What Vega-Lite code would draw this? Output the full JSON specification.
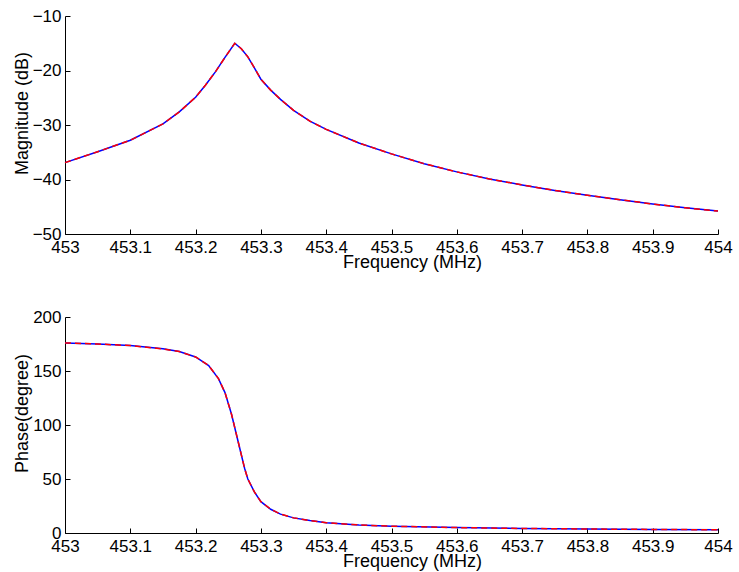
{
  "$schema": "https://vega.github.io/schema/vega-lite/v6.json",
  "background": "white",
  "padding": {"left": 13, "top": 7, "right": 15, "bottom": 5},
  "spacing": 37,
  "config": {
    "view": {"stroke": null},
    "font": "Liberation Sans",
    "axis": {
      "grid": false,
      "domainColor": "#000000",
      "tickColor": "#000000",
      "labelColor": "#000000",
      "titleColor": "#000000",
      "labelFont": "Liberation Sans",
      "titleFont": "Liberation Sans",
      "labelFontSize": 17,
      "titleFontSize": 18,
      "titleFontWeight": "normal",
      "tickSize": -5,
      "domainWidth": 1,
      "tickWidth": 1
    }
  },
  "datasets": {
    "mag": [
      {"f": 453.0, "v": -36.9}, {"f": 453.05, "v": -34.9}, {"f": 453.1, "v": -32.8}, {"f": 453.15, "v": -29.8},
      {"f": 453.175, "v": -27.6}, {"f": 453.2, "v": -24.9}, {"f": 453.215, "v": -22.7}, {"f": 453.23, "v": -20.3},
      {"f": 453.245, "v": -17.6}, {"f": 453.26, "v": -15.0}, {"f": 453.27, "v": -16.0}, {"f": 453.28, "v": -17.5},
      {"f": 453.29, "v": -19.5}, {"f": 453.3, "v": -21.6}, {"f": 453.315, "v": -23.6}, {"f": 453.33, "v": -25.3},
      {"f": 453.35, "v": -27.3}, {"f": 453.375, "v": -29.3}, {"f": 453.4, "v": -30.8}, {"f": 453.45, "v": -33.3},
      {"f": 453.5, "v": -35.3}, {"f": 453.55, "v": -37.1}, {"f": 453.6, "v": -38.6}, {"f": 453.65, "v": -39.9},
      {"f": 453.7, "v": -41.0}, {"f": 453.75, "v": -42.0}, {"f": 453.8, "v": -42.9}, {"f": 453.85, "v": -43.7},
      {"f": 453.9, "v": -44.5}, {"f": 453.95, "v": -45.2}, {"f": 454.0, "v": -45.8}
    ],
    "phase": [
      {"f": 453.0, "v": 176}, {"f": 453.05, "v": 175}, {"f": 453.1, "v": 173.5}, {"f": 453.15, "v": 170.5},
      {"f": 453.175, "v": 168}, {"f": 453.2, "v": 163}, {"f": 453.22, "v": 155}, {"f": 453.235, "v": 143},
      {"f": 453.245, "v": 130}, {"f": 453.255, "v": 110}, {"f": 453.265, "v": 85}, {"f": 453.275, "v": 60},
      {"f": 453.28, "v": 50}, {"f": 453.29, "v": 38}, {"f": 453.3, "v": 29}, {"f": 453.315, "v": 22},
      {"f": 453.33, "v": 17.5}, {"f": 453.35, "v": 14}, {"f": 453.375, "v": 11.5}, {"f": 453.4, "v": 9.5},
      {"f": 453.45, "v": 7.5}, {"f": 453.5, "v": 6.3}, {"f": 453.6, "v": 5.0}, {"f": 453.7, "v": 4.2},
      {"f": 453.8, "v": 3.7}, {"f": 453.9, "v": 3.3}, {"f": 454.0, "v": 3.0}
    ]
  },
  "vconcat": [
    {
      "width": 653,
      "height": 218,
      "data": {"name": "mag"},
      "encoding": {
        "x": {"field": "f", "type": "quantitative", "scale": {"domain": [453, 454], "nice": false, "zero": false},
              "axis": {"title": "Frequency (MHz)", "values": [453, 453.1, 453.2, 453.3, 453.4, 453.5, 453.6, 453.7, 453.8, 453.9, 454], "format": "~g", "labelPadding": 10, "titleX": 347, "titleY": 33, "titleBaseline": "alphabetic", "titleAlign": "center", "labelFlush": false}},
        "y": {"field": "v", "type": "quantitative", "scale": {"domain": [-50, -10], "nice": false, "zero": false},
              "axis": {"title": "Magnitude (dB)", "values": [-50, -40, -30, -20, -10], "labelPadding": 9, "titleX": -34, "titleY": 97, "titleBaseline": "bottom", "titleAlign": "center", "titleAngle": -90, "labelFlush": false}}
      },
      "layer": [
        {"mark": {"type": "line", "color": "#0000ff", "strokeWidth": 1.5}},
        {"mark": {"type": "line", "color": "#ff0000", "strokeWidth": 1.5, "strokeDash": [6, 4]}}
      ]
    },
    {
      "width": 653,
      "height": 216,
      "data": {"name": "phase"},
      "encoding": {
        "x": {"field": "f", "type": "quantitative", "scale": {"domain": [453, 454], "nice": false, "zero": false},
              "axis": {"title": "Frequency (MHz)", "values": [453, 453.1, 453.2, 453.3, 453.4, 453.5, 453.6, 453.7, 453.8, 453.9, 454], "format": "~g", "labelPadding": 10, "titleX": 347, "titleY": 33, "titleBaseline": "alphabetic", "titleAlign": "center", "labelFlush": false}},
        "y": {"field": "v", "type": "quantitative", "scale": {"domain": [0, 200], "nice": false, "zero": false},
              "axis": {"title": "Phase(degree)", "values": [0, 50, 100, 150, 200], "labelPadding": 9, "titleX": -34, "titleY": 96, "titleBaseline": "bottom", "titleAlign": "center", "titleAngle": -90, "labelFlush": false}}
      },
      "layer": [
        {"mark": {"type": "line", "color": "#0000ff", "strokeWidth": 1.5}},
        {"mark": {"type": "line", "color": "#ff0000", "strokeWidth": 1.5, "strokeDash": [6, 4]}}
      ]
    }
  ]
}
